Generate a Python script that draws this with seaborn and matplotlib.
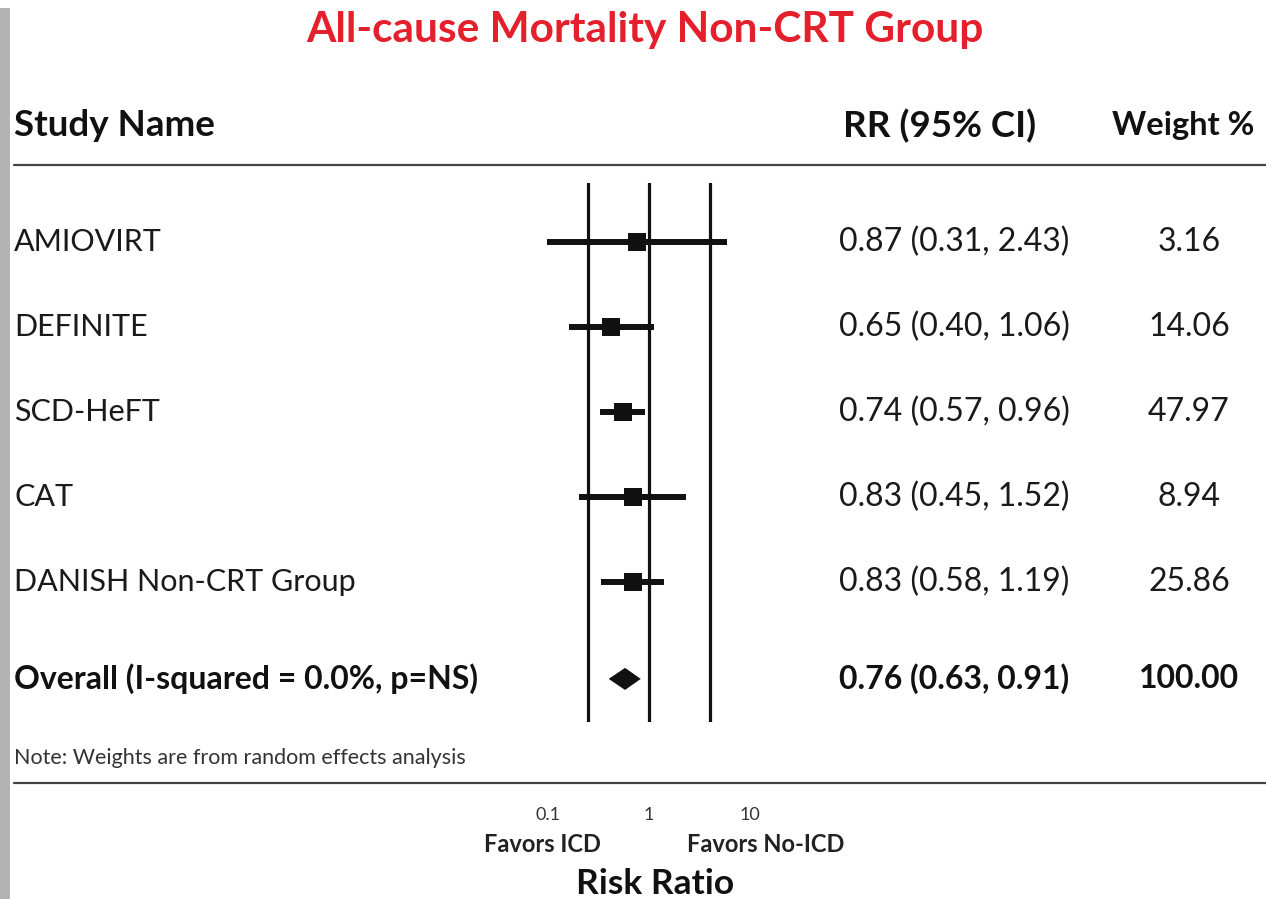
import numpy as np
import pandas as pd
import matplotlib
matplotlib.use("Agg")
import matplotlib.pyplot as plt
import matplotlib.transforms as mtransforms
from matplotlib.lines import Line2D
from matplotlib.patches import Rectangle
import seaborn as sns

# ---------------- data ----------------
title = "All-cause Mortality Non-CRT Group"
studies = ["AMIOVIRT", "DEFINITE", "SCD-HeFT", "CAT", "DANISH Non-CRT Group"]
rr = [0.87, 0.65, 0.74, 0.83, 0.83]
ci_low = [0.31, 0.40, 0.57, 0.45, 0.58]
ci_high = [2.43, 1.06, 0.96, 1.52, 1.19]
weights = [3.16, 14.06, 47.97, 8.94, 25.86]
overall_label = "Overall (I-squared = 0.0%, p=NS)"
overall_rr = 0.76
overall_low = 0.63
overall_high = 0.91
overall_weight = 100.00
ref_lines = [0.5, 1, 2]
tick_values = [10 ** -0.5, 1, 10 ** 0.5]
tick_labels = ["0.1", "1", "10"]
header_study = "Study Name"
header_rr = "RR (95% CI)"
header_weight = "Weight %"
note = "Note: Weights are from random effects analysis"
favors_left = "Favors ICD"
favors_right = "Favors No-ICD"
xlabel = "Risk Ratio"

# ---------------- figure ----------------
sns.set_theme(style="white")
plt.rcParams["font.family"] = ["Lato", "DejaVu Sans"]
W, H = 1266, 899
fig = plt.figure(figsize=(W / 100, H / 100), dpi=100)
fig.patch.set_facecolor("white")

def fx(px):
    return px / W

def fy(py):
    return 1 - py / H

# axes region (pixel box)
ax_l, ax_r, ax_t, ax_b = 500, 800, 183, 722
ax = fig.add_axes([fx(ax_l), fy(ax_b), fx(ax_r) - fx(ax_l), fy(ax_t) - fy(ax_b)])
ax.set_xscale("log")
decade_px = 201.0
one_px = 649.0
ax.set_xlim(10 ** ((ax_l - one_px) / decade_px), 10 ** ((ax_r - one_px) / decade_px))
row_px = 85.0
row0_px = 242.0
ax.set_ylim((ax_b - row0_px) / row_px, (ax_t - row0_px) / row_px)
ax.axis("off")

rows = list(range(len(studies)))
overall_row = 5.14

df = pd.DataFrame({"study": studies, "rr": rr, "low": ci_low, "high": ci_high,
                   "weight": weights, "row": rows})

ink = "#111111"
# reference lines
for v in ref_lines:
    ax.axvline(v, color=ink, lw=2.3, zorder=1)

# confidence intervals
ax.hlines(df["row"], df["low"], df["high"], color=ink, lw=4.3, zorder=2)
# point estimates
sns.scatterplot(data=df, x="rr", y="row", marker="s", s=165, color=ink,
                edgecolor=ink, linewidth=0, ax=ax, zorder=3, legend=False)
ax.set_xlabel("")
ax.set_ylabel("")

# overall diamond
dh = 0.13
ax.fill([overall_low, overall_rr, overall_high, overall_rr],
        [overall_row, overall_row - dh, overall_row, overall_row + dh],
        color=ink, lw=0, zorder=3)

# ---------------- text columns ----------------
tr = mtransforms.blended_transform_factory(fig.transFigure, ax.transData)
name_fs = 22
num_fs = 23
bold_fs = 23
txt = "#1a1a1a"
for i, r in df.iterrows():
    ax.text(fx(14), r["row"], r["study"], transform=tr, ha="left", va="center",
            fontsize=name_fs, color=txt, clip_on=False)
    ax.text(fx(954), r["row"], f"{r['rr']:.2f} ({r['low']:.2f}, {r['high']:.2f})",
            transform=tr, ha="center", va="center", fontsize=num_fs,
            color=txt, clip_on=False)
    ax.text(fx(1189), r["row"], f"{r['weight']:.2f}", transform=tr,
            ha="center", va="center", fontsize=num_fs, color=txt, clip_on=False)

ax.text(fx(14), overall_row, overall_label, transform=tr, ha="left", va="center",
        fontsize=bold_fs, fontweight="bold", color="#111111", clip_on=False)
ax.text(fx(954), overall_row, f"{overall_rr:.2f} ({overall_low:.2f}, {overall_high:.2f})",
        transform=tr, ha="center", va="center", fontsize=bold_fs,
        fontweight="bold", color="#111111", clip_on=False)
ax.text(fx(1189), overall_row, f"{overall_weight:.2f}", transform=tr,
        ha="center", va="center", fontsize=bold_fs, fontweight="bold",
        color="#111111", clip_on=False)

# headers
hdr_fs = 26.5
fig.text(fx(14), fy(126), header_study, ha="left", va="center", fontsize=hdr_fs,
         fontweight="bold", color="#111111")
fig.text(fx(940), fy(126), header_rr, ha="center", va="center", fontsize=hdr_fs,
         fontweight="bold", color="#111111")
fig.text(fx(1112), fy(126), header_weight, ha="left", va="center", fontsize=23.5,
         fontweight="bold", color="#111111")

# title
fig.text(fx(645), fy(30), title, ha="center", va="center", fontsize=30.5,
         fontweight="bold", color="#e3202b")

# rules
fig.add_artist(Line2D([fx(14), 1.0], [fy(165), fy(165)], color="#444444", lw=1.6))
fig.add_artist(Line2D([fx(14), 1.0], [fy(783), fy(783)], color="#444444", lw=1.6))

# note
fig.text(fx(14), fy(758), note, ha="left", va="center", fontsize=15.5, color="#333333")

# tick labels under the axis
trx = mtransforms.blended_transform_factory(ax.transData, fig.transFigure)
for v, lab in zip(tick_values, tick_labels):
    ax.text(v, fy(815), lab, transform=trx, ha="center", va="center",
            fontsize=13, color="#333333", clip_on=False)

fig.text(fx(542), fy(845), favors_left, ha="center", va="center", fontsize=17,
         fontweight="bold", color="#222222")
fig.text(fx(766), fy(845), favors_right, ha="center", va="center", fontsize=17,
         fontweight="bold", color="#222222")
fig.text(fx(655), fy(884), xlabel, ha="center", va="center", fontsize=25.5,
         fontweight="bold", color="#111111")

# left grey slide edge
fig.add_artist(Rectangle((0, 0), fx(10), fy(8), transform=fig.transFigure,
                         facecolor="#b3b3b3", edgecolor="none"))

fig.savefig("out.png", dpi=100, facecolor="white")
